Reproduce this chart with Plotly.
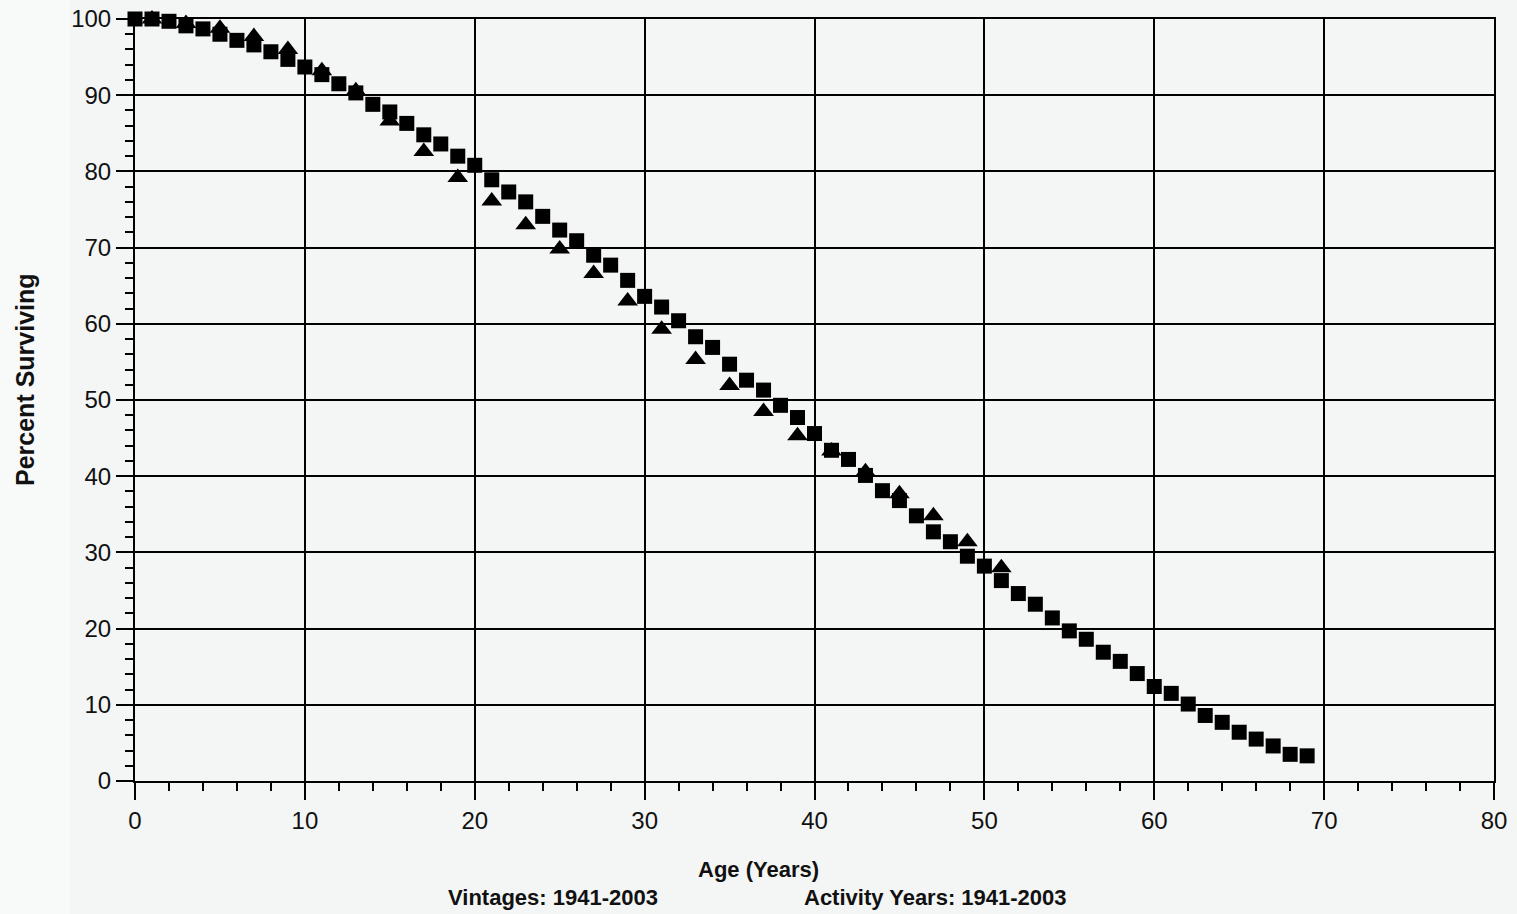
import plotly.graph_objects as go

# Ages (years) for the square series
sq_age = list(range(0, 70))
sq_pct = [100.0, 100.0, 99.7, 99.1, 98.7, 98.0, 97.2, 96.6, 95.7, 94.7,
          93.7, 92.7, 91.5, 90.3, 88.8, 87.8, 86.3, 84.8, 83.6, 82.0,
          80.8, 78.9, 77.3, 76.0, 74.1, 72.3, 70.9, 69.0, 67.7, 65.7,
          63.6, 62.2, 60.4, 58.3, 56.9, 54.7, 52.6, 51.3, 49.3, 47.7,
          45.6, 43.4, 42.2, 40.1, 38.1, 36.8, 34.8, 32.7, 31.4, 29.5,
          28.2, 26.3, 24.6, 23.2, 21.4, 19.7, 18.6, 16.9, 15.7, 14.1,
          12.4, 11.5, 10.1, 8.6, 7.7, 6.4, 5.5, 4.6, 3.5, 3.3]

# Ages (years) for the triangle series (odd years)
tri_age = [1, 3, 5, 7, 9, 11, 13, 15, 17, 19, 21, 23, 25, 27, 29, 31, 33,
           35, 37, 39, 41, 43, 45, 47, 49, 51]
tri_pct = [100.0, 99.4, 98.8, 97.7, 96.0, 93.2, 90.6, 86.6, 82.6, 79.2,
           76.1, 73.0, 69.8, 66.6, 63.0, 59.3, 55.3, 51.9, 48.5, 45.3,
           43.3, 40.6, 37.7, 34.8, 31.4, 28.0]

x_ticks = [0, 10, 20, 30, 40, 50, 60, 70, 80]
y_ticks = [0, 10, 20, 30, 40, 50, 60, 70, 80, 90, 100]

x_title = "Age (Years)"
y_title = "Percent Surviving"
note_left = "Vintages: 1941-2003"
note_right = "Activity Years: 1941-2003"

BG = "#f4f6f5"
FONT = "Liberation Sans, Arial, sans-serif"

fig = go.Figure()
fig.add_trace(go.Scatter(
    x=tri_age, y=tri_pct, mode="markers",
    marker=dict(symbol="triangle-up", size=18, color="#000000",
                line=dict(width=0)),
    cliponaxis=False, showlegend=False, hoverinfo="x+y"))
fig.add_trace(go.Scatter(
    x=sq_age, y=sq_pct, mode="markers",
    marker=dict(symbol="square", size=15, color="#000000",
                line=dict(width=0)),
    cliponaxis=False, showlegend=False, hoverinfo="x+y"))

axis_common = dict(
    showgrid=True, gridcolor="#000000", gridwidth=2,
    showline=True, linecolor="#000000", linewidth=2, mirror=True,
    zeroline=False, automargin=False,
    ticks="outside", ticklen=17, tickwidth=2, tickcolor="#000000",
    tickfont=dict(family=FONT, size=24, color="#111111"),
)

fig.update_xaxes(
    range=[0, 80], tickvals=x_ticks, ticktext=[str(v) for v in x_ticks],
    minor=dict(dtick=2, ticks="outside", ticklen=8, tickwidth=2,
               tickcolor="#000000", showgrid=False),
    **axis_common)
fig.update_yaxes(
    range=[0, 100], tickvals=y_ticks, ticktext=[str(v) for v in y_ticks],
    minor=dict(dtick=2, ticks="outside", ticklen=8, tickwidth=2,
               tickcolor="#000000", showgrid=False),
    **axis_common)

PW = 1359
PH = 762
title_font = dict(family=FONT, size=22, color="#111111")
fig.update_layout(
    width=1517, height=914,
    margin=dict(l=135, r=23, t=19, b=133),
    paper_bgcolor=BG, plot_bgcolor=BG,
    shapes=[dict(type="rect", xref="paper", yref="paper",
                 x0=-135 / PW, x1=-65 / PW, y0=-133 / PH, y1=19 / PH + 1,
                 fillcolor="#f8f9f9", line=dict(width=0), layer="below")],
    annotations=[
        dict(text="<b>" + x_title + "</b>", xref="paper", yref="paper",
             x=(758 - 135) / PW, y=-(869 - 781) / PH, xanchor="center",
             yanchor="middle", showarrow=False, font=title_font),
        dict(text="<b>" + note_left + "</b>", xref="paper", yref="paper",
             x=(553 - 135) / PW, y=-(897 - 781) / PH, xanchor="center",
             yanchor="middle", showarrow=False, font=title_font),
        dict(text="<b>" + note_right + "</b>", xref="paper", yref="paper",
             x=(935 - 135) / PW, y=-(897 - 781) / PH, xanchor="center",
             yanchor="middle", showarrow=False, font=title_font),
        dict(text="<b>" + y_title + "</b>", xref="paper", yref="paper",
             x=-(135 - 25) / PW, y=(781 - 380) / PH, xanchor="center",
             yanchor="middle", textangle=-90, showarrow=False,
             font=dict(family=FONT, size=25, color="#111111")),
    ],
)

fig.write_html("out.html")
